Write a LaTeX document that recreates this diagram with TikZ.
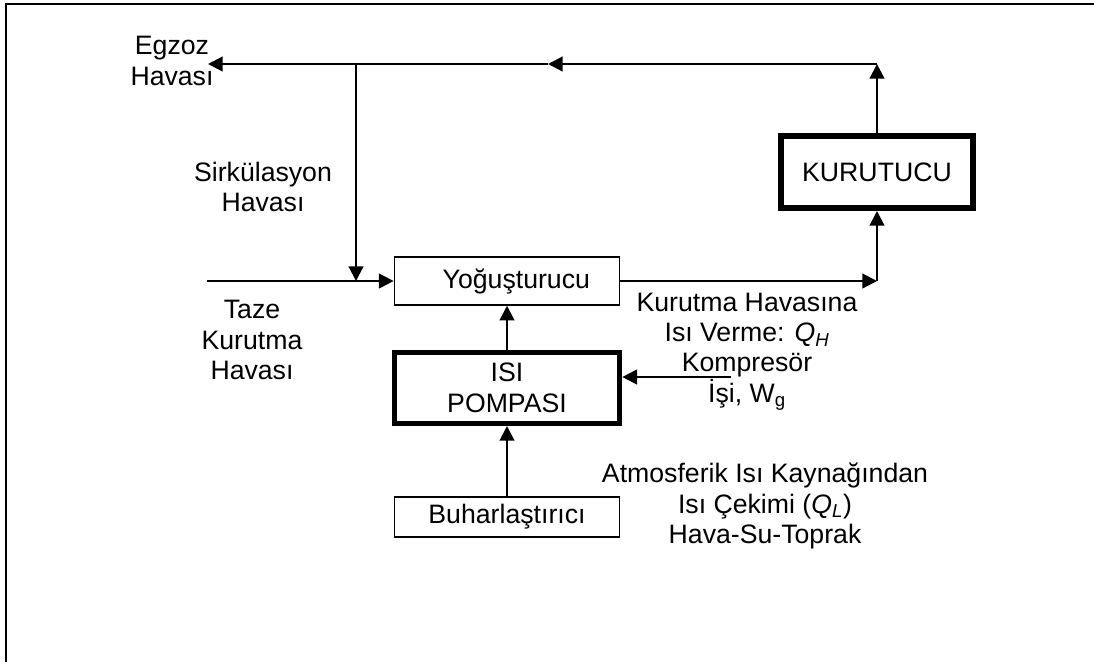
\documentclass[tikz,border=0pt]{standalone}
\usepackage{fontspec}
\setmainfont{Liberation Sans}
\usetikzlibrary{arrows.meta,calc}
\tikzset{
	flow/.style={-{Triangle[length=11pt,width=11pt]}, line width=1.6pt},
	lbl/.style={align=center, inner sep=0pt, font=\fontsize{20}{22.8}\selectfont},
	thinbox/.style={draw, line width=1.1pt, lbl, inner sep=0pt},
	thickbox/.style={draw, line width=4pt, lbl, inner sep=0pt}
}

\begin{document}
\begin{tikzpicture}[x=0.75pt, y=-0.75pt]
		\useasboundingbox (0,0) rectangle (1094,662);
		\draw[line width=1.5pt] (6,662) -- (6,4) -- (1094,4);

		% boxes
		\node[thinbox, minimum width=169pt, minimum height=36pt] (yog) at (507,281) {\hspace{14pt}Yoğuşturucu};
		\node[thickbox, minimum width=169pt, minimum height=53pt] (pompa) at (507,388) {ISI\\POMPASI};
		\node[thinbox, minimum width=169pt, minimum height=30pt] (buhar) at (507,517) {Buharlaştırıcı};
		\node[thickbox, line width=4.5pt, minimum width=144pt, minimum height=54pt] (kurutucu) at (877,172) {KURUTUCU};

		% texts
		\node[lbl] (egzoz) at (172,61) {Egzoz\\Havası};
		\node[lbl] (sirk) at (263,187) {Sirkülasyon\\Havası};
		\node[lbl] (taze) at (252,340) {Taze\\Kurutma\\Havası};
		\node[lbl] (qh) at (747,320) {Kurutma Havasına\\Isı Verme: \textit{Q}\textsubscript{\textit{H}}};
		\node[lbl] (wg) at (747,382) {Kompresör\\İşi, W\textsubscript{g}};
		\node[lbl] (ql) at (765,506) {Atmosferik Isı Kaynağından\\Isı Çekimi (\textit{Q}\textsubscript{\textit{L}})\\Hava-Su-Toprak};

		% points on the lines
		\coordinate (giris) at (207,281);
		\coordinate (cikis) at (208,64);
		\coordinate (ayrim) at (356,64);
		\coordinate (orta) at (548,64);
		\coordinate (kose) at (877,64);
		\coordinate (sag) at (877,281);
		\coordinate (komp) at (731,377);

		% connectors
		\draw[flow] (giris) -- (giris -| yog.west);
		\draw[flow] (ayrim) -- (ayrim |- giris);
		\draw[flow] (pompa.north) -- (yog.south);
		\draw[flow] (buhar.north) -- (pompa.south);
		\draw[flow] (komp) -- (komp -| pompa.east);
		\draw[flow] (yog.east |- sag) -- (sag);
		\draw[flow] (sag) -- (kurutucu.south);
		\draw[flow] (kurutucu.north) -- (kose);
		\draw[flow] (kose) -- (orta);
		\draw[flow] (orta) -- (cikis);
	\end{tikzpicture}
\end{document}
